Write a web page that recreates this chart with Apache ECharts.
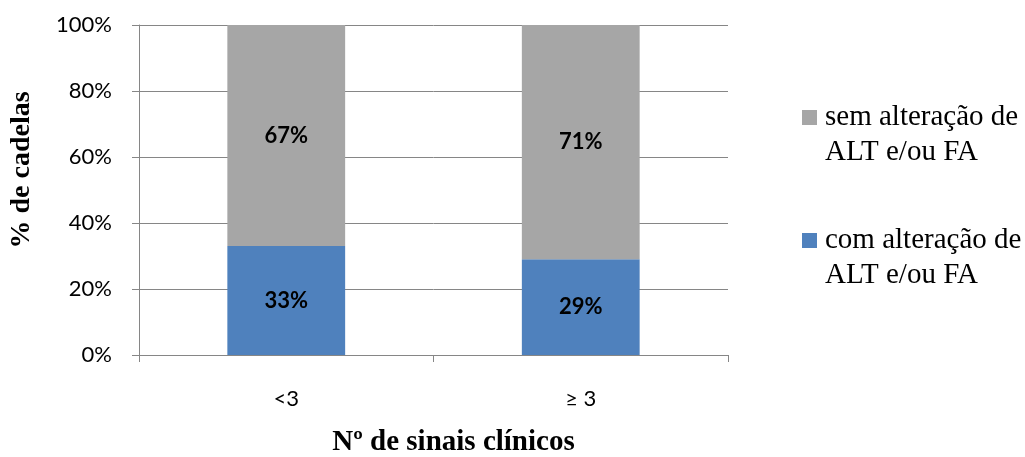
<!DOCTYPE html>
<html><head><meta charset="utf-8">
<script src="https://cdn.jsdelivr.net/npm/echarts@6/dist/echarts.min.js"></script>
<style>html,body{margin:0;padding:0;background:#fff}#c{width:1025px;height:457px}</style>
</head><body><div id="c"></div>
<script>
const categories = ['<3', '≥ 3'];
const comAlteracao = [33, 29];
const semAlteracao = [67, 71];
const yTicks = [0, 20, 40, 60, 80, 100];
const seriesNames = ['com alteração de\nALT e/ou FA', 'sem alteração de\nALT e/ou FA'];

const axisColor = '#868686';
const chart = echarts.init(document.getElementById('c'));
const labelStyle = {show: true, position: 'inside', formatter: p => p.value + '%', color: '#000', fontFamily: 'Lato', fontWeight: 'bold', fontSize: 22};
chart.setOption({
  animation: false,
  grid: {left: 139, right: 297, top: 25, bottom: 102, containLabel: false, outerBoundsMode: 'none'},
  legend: {
    orient: 'vertical', left: 802, top: 65, itemGap: 18, padding: 0,
    itemWidth: 15, itemHeight: 15, icon: 'rect',
    data: [seriesNames[1], seriesNames[0]],
    formatter: name => '\n' + name,
    textStyle: {fontFamily: 'Liberation Serif', fontSize: 29, color: '#000', lineHeight: 35, padding: [0, 0, 0, 3]}
  },
  xAxis: {
    type: 'category', data: categories,
    name: 'Nº de sinais clínicos', nameLocation: 'middle', nameGap: 73,
    nameTextStyle: {fontFamily: 'Liberation Serif', fontWeight: 'bold', fontSize: 29, color: '#000', padding: [0, 0, 0, 40]},
    axisLine: {lineStyle: {color: axisColor}},
    axisTick: {show: true, length: 7, lineStyle: {color: axisColor}},
    axisLabel: {margin: 33, fontFamily: 'Lato', fontSize: 22, color: '#000'}
  },
  yAxis: {
    type: 'value', min: yTicks[0], max: yTicks[yTicks.length - 1], interval: 20,
    name: '% de cadelas', nameLocation: 'middle', nameGap: 103, nameRotate: 90,
    nameTextStyle: {fontFamily: 'Liberation Serif', fontWeight: 'bold', fontSize: 28, color: '#000', padding: [0, 0, 0, 40]},
    axisLine: {show: true, lineStyle: {color: axisColor}},
    axisTick: {show: true, length: 7, lineStyle: {color: axisColor}},
    splitLine: {lineStyle: {color: axisColor}},
    axisLabel: {margin: 27, fontFamily: 'Lato', fontSize: 22, color: '#000', formatter: v => v + '%'}
  },
  series: [
    {name: seriesNames[0], type: 'bar', stack: 't', data: comAlteracao, barWidth: '40%', itemStyle: {color: '#4F81BD'}, label: labelStyle},
    {name: seriesNames[1], type: 'bar', stack: 't', data: semAlteracao, barWidth: '40%', itemStyle: {color: '#A6A6A6'}, label: labelStyle}
  ]
});
</script></body></html>
